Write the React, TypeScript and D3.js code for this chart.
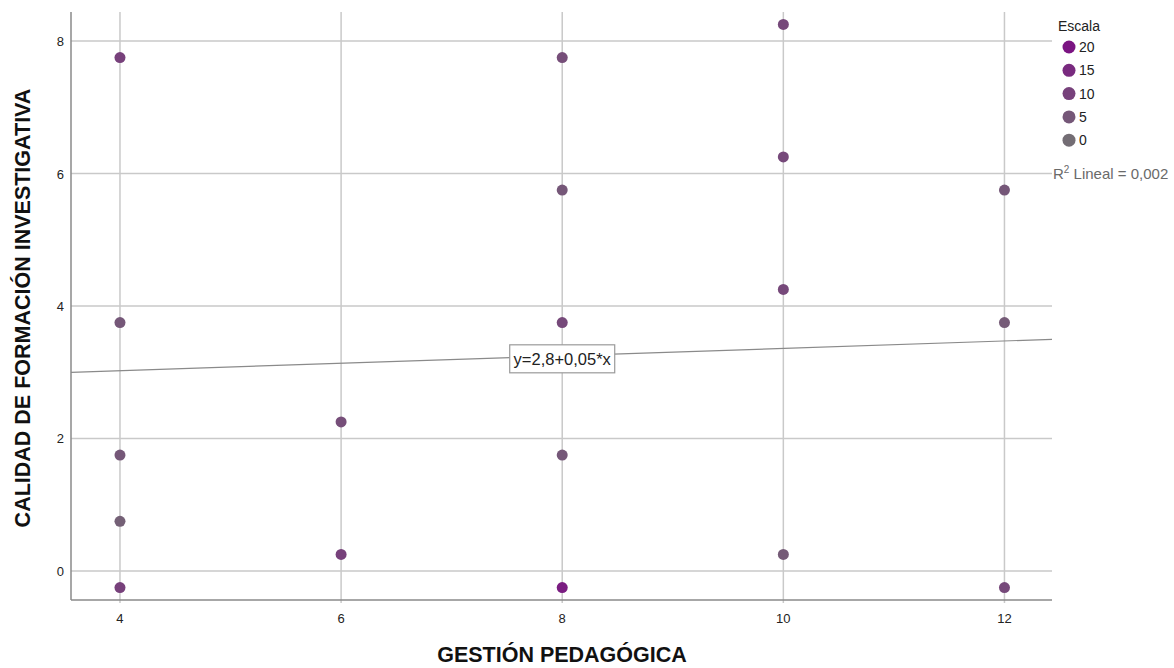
import React from "react";
import * as d3 from "d3";

const xValues = [4, 4, 4, 4, 4, 6, 6, 8, 8, 8, 8, 8, 10, 10, 10, 10, 12, 12, 12];
const yValues = [7.75, 3.75, 1.75, 0.75, -0.25, 2.25, 0.25, 7.75, 5.75, 3.75, 1.75, -0.25, 8.25, 6.25, 4.25, 0.25, 5.75, 3.75, -0.25];
const escalaValues = [10, 5, 5, 3, 10, 7, 10, 7, 5, 8, 5, 18, 8, 8, 8, 4, 5, 4, 8];
const xTicks = [4, 6, 8, 10, 12];
const yTicks = [0, 2, 4, 6, 8];
const legendValues = [20, 15, 10, 5, 0];
const fitIntercept = 2.8;
const fitSlope = 0.056;
const equationLabel = "y=2,8+0,05*x";
const r2Label = "Lineal = 0,002";

const W = 1174;
const H = 668;
const left = 71;
const right = 1052;
const top = 12;
const bottom = 600;

export default function App() {
  const x = d3.scaleLinear().domain([3.557, 12.43]).range([left, right]);
  const y = d3.scaleLinear().domain([-0.438, 8.438]).range([bottom, top]);
  const color = d3
    .scaleLinear<string>()
    .domain([0, 20])
    .range(["#736d74", "#7b1482"])
    .interpolate(d3.interpolateRgb);
  const font = "'Liberation Sans', Arial, sans-serif";
  const gridColor = "#c9c9c9";

  const x0 = x.domain()[0];
  const x1 = x.domain()[1];
  const line = d3
    .line<number>()
    .x((d) => x(d))
    .y((d) => y(fitIntercept + fitSlope * d));

  const eqX = x(8);
  const eqY = y(fitIntercept + fitSlope * 8) + 3;

  return (
    <svg
      width={W}
      height={H}
      style={{ position: "absolute", left: 0, top: 0, background: "#fff" }}
      fontFamily={font}
    >
      {/* grid */}
      {yTicks.map((t) => (
        <line key={"gy" + t} x1={left} x2={right} y1={y(t)} y2={y(t)} stroke={gridColor} strokeWidth={1.5} />
      ))}
      {xTicks.map((t) => (
        <line key={"gx" + t} x1={x(t)} x2={x(t)} y1={top} y2={bottom + 3} stroke={gridColor} strokeWidth={1.5} />
      ))}
      {/* axes */}
      <line x1={left} x2={left} y1={top} y2={bottom} stroke="#8a8a8a" strokeWidth={1.5} />
      <line x1={left} x2={right} y1={bottom} y2={bottom} stroke="#8a8a8a" strokeWidth={1.5} />
      {/* tick labels */}
      {xTicks.map((t) => (
        <text key={"tx" + t} x={x(t)} y={623} textAnchor="middle" fontSize={13} fill="#222">
          {t}
        </text>
      ))}
      {yTicks.map((t) => (
        <text key={"ty" + t} x={64} y={y(t) + 5} textAnchor="end" fontSize={13} fill="#222">
          {t}
        </text>
      ))}
      {/* fit line */}
      <path d={line([x0, x1]) || ""} stroke="#8a8a8a" strokeWidth={1.2} fill="none" />
      {/* points */}
      {xValues.map((xv, i) => (
        <circle key={"p" + i} cx={x(xv)} cy={y(yValues[i])} r={5.5} fill={color(escalaValues[i])} />
      ))}
      {/* equation label */}
      <rect x={eqX - 52.5} y={eqY - 14} width={105} height={28} fill="#fff" stroke="#9a9a9a" strokeWidth={1.2} />
      <text x={eqX} y={eqY + 6} textAnchor="middle" fontSize={16.5} fill="#222">
        {equationLabel}
      </text>
      {/* legend */}
      <text x={1058} y={31} fontSize={14} fill="#222">
        Escala
      </text>
      {legendValues.map((v, i) => (
        <g key={"lg" + v}>
          <circle cx={1069} cy={47 + i * 23.3} r={6.5} fill={color(v)} />
          <text x={1079} y={52 + i * 23.3} fontSize={14} fill="#222">
            {v}
          </text>
        </g>
      ))}
      <text x={1053} y={179} fontSize={15} fill="#6a6a6a">
        R<tspan dy={-6} fontSize={10}>2</tspan>
        <tspan dy={6}> {r2Label}</tspan>
      </text>
      {/* axis titles */}
      <text x={562} y={662} textAnchor="middle" fontSize={21.5} fontWeight="bold" fill="#111">
        GESTIÓN PEDAGÓGICA
      </text>
      <text
        transform={`translate(30, ${(87 + 529) / 2}) rotate(-90)`}
        textAnchor="middle"
        fontSize={21.5}
        fontWeight="bold"
        fill="#111"
      >
        CALIDAD DE FORMACIÓN INVESTIGATIVA
      </text>
    </svg>
  );
}
